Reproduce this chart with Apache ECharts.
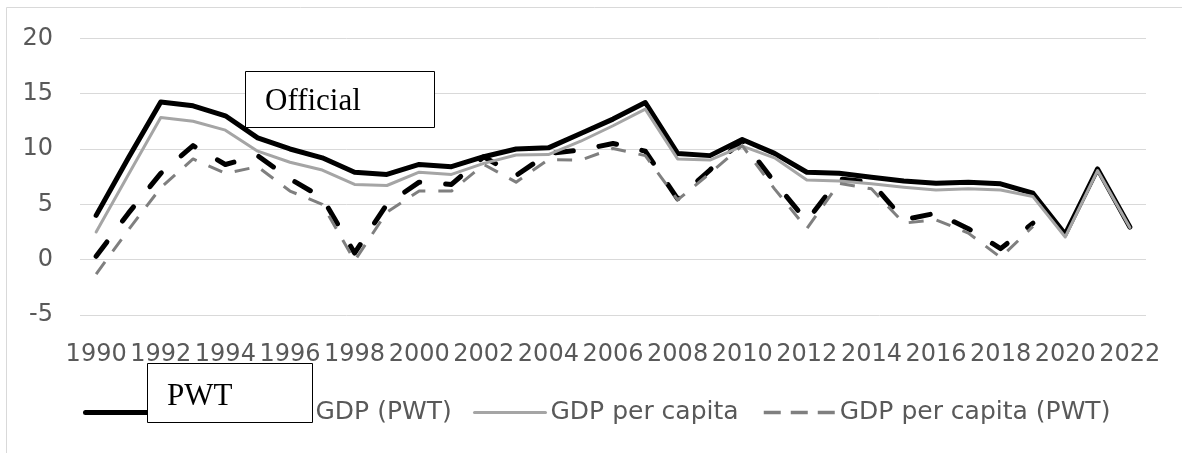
<!DOCTYPE html>
<html>
<head>
<meta charset="utf-8">
<script src="https://cdn.jsdelivr.net/npm/echarts@6/dist/echarts.min.js"></script>
<style>
html,body{margin:0;padding:0;background:#fff;}
#chart{width:1182px;height:453px;}
</style>
</head>
<body>
<div id="chart"></div>
<script>
const years = ['1990','1991','1992','1993','1994','1995','1996','1997','1998','1999','2000','2001','2002','2003','2004','2005','2006','2007','2008','2009','2010','2011','2012','2013','2014','2015','2016','2017','2018','2019','2020','2021','2022'];
const gdp = [4.0,9.2,14.25,13.9,13.0,11.0,10.0,9.2,7.9,7.7,8.6,8.4,9.3,10.0,10.1,11.4,12.7,14.2,9.6,9.4,10.85,9.6,7.9,7.8,7.45,7.1,6.9,7.0,6.85,6.0,2.3,8.2,2.95];
const gdpPwt = [0.3,4.2,7.8,10.3,8.6,9.4,7.3,5.6,0.6,5.0,7.0,6.8,9.3,7.6,9.6,9.9,10.5,9.8,5.5,8.1,10.8,7.0,3.5,7.3,7.0,3.6,4.2,2.8,1.0,3.3];
const gdpPc = [2.5,7.7,12.85,12.5,11.7,9.8,8.8,8.1,6.8,6.7,7.9,7.7,8.7,9.45,9.5,10.7,12.1,13.6,9.1,9.0,10.25,9.2,7.2,7.1,6.85,6.55,6.3,6.4,6.3,5.7,2.05,8.05,2.9];
const gdpPcPwt = [-1.3,2.7,6.5,9.1,7.8,8.4,6.2,5.0,-0.1,4.3,6.2,6.2,8.6,7.0,9.05,9.0,10.05,9.4,5.4,7.8,10.3,6.4,2.8,6.9,6.4,3.3,3.6,2.4,0.2,3.0];
const seriesNames = ['GDP','GDP (PWT)','GDP per capita','GDP per capita (PWT)'];
const yTicks = {min:-5, max:20, step:5};

const chart = echarts.init(document.getElementById('chart'));
const txt = '#595959';
const styles = [
  {color: '#000', width: 5, type: 'solid', cap: 'round', join: 'round'},
  {color: '#000', width: 5, type: [18, 26], cap: 'round', join: 'round'},
  {color: '#a5a5a5', width: 3, type: 'solid', cap: 'round', join: 'round'},
  {color: '#7f7f7f', width: 3, type: [15, 13], cap: 'butt', join: 'round'}
];
const legendStyles = [
  {color: '#000', width: 5, type: 'solid', cap: 'round'},
  {color: '#000', width: 5, type: [18, 26], cap: 'round'},
  {color: '#a5a5a5', width: 3, type: 'solid', cap: 'round'},
  {color: '#7f7f7f', width: 3.5, type: [17, 10], dashOffset: 0, cap: 'butt'}
];
const legendLefts = [83, 237, 473, 762];
const legends = seriesNames.map((n, i) => ({
  data: [n], left: legendLefts[i], top: 396.5, padding: 0, itemWidth: 71, itemHeight: 40,
  selectedMode: false,
  itemStyle: {opacity: 0},
  lineStyle: legendStyles[i],
  textStyle: {fontFamily: 'DejaVu Sans', fontSize: 25, color: txt, padding: [0,0,12,0]}
}));
const datas = [gdp, gdpPwt, gdpPc, gdpPcPwt];
const series = seriesNames.map((n, i) => ({
  name: n, type: 'line', data: datas[i], symbol: 'none', z: 2 + i,
  lineStyle: styles[i], itemStyle: {color: styles[i].color, opacity: 0}
}));

chart.setOption({
  animation: false,
  backgroundColor: '#fff',
  grid: {left: 80, right: 36, top: 38.3, bottom: 138, containLabel: false},
  xAxis: {
    type: 'category', data: years, boundaryGap: true,
    axisLine: {show: false}, axisTick: {show: false},
    axisLabel: {interval: 1, fontFamily: 'DejaVu Sans', fontSize: 24, color: txt, margin: 28}
  },
  yAxis: {
    type: 'value', min: yTicks.min, max: yTicks.max, interval: yTicks.step,
    axisLine: {show: false}, axisTick: {show: false},
    axisLabel: {fontFamily: 'DejaVu Sans', fontSize: 24, color: txt, margin: 27},
    splitLine: {lineStyle: {color: '#d9d9d9', width: 1}}
  },
  legend: legends,
  series: series,
  graphic: [
    {type: 'rect', silent: true, z: -10, shape: {x: 6.5, y: 7.5, width: 1250, height: 500},
     style: {fill: 'none', stroke: '#d9d9d9', lineWidth: 1}},
    {type: 'rect', silent: true, z: 100, shape: {x: 245.5, y: 71.5, width: 189, height: 56},
     style: {fill: '#fff', stroke: '#000', lineWidth: 1}},
    {type: 'text', silent: true, z: 101, x: 265, y: 102,
     style: {text: 'Official', font: '31px "Liberation Serif"', fill: '#000', align: 'left', verticalAlign: 'middle'}},
    {type: 'rect', silent: true, z: 100, shape: {x: 147.5, y: 363.5, width: 165, height: 59},
     style: {fill: '#fff', stroke: '#000', lineWidth: 1}},
    {type: 'text', silent: true, z: 101, x: 167, y: 397,
     style: {text: 'PWT', font: '31px "Liberation Serif"', fill: '#000', align: 'left', verticalAlign: 'middle'}}
  ]
});
</script>
</body>
</html>
